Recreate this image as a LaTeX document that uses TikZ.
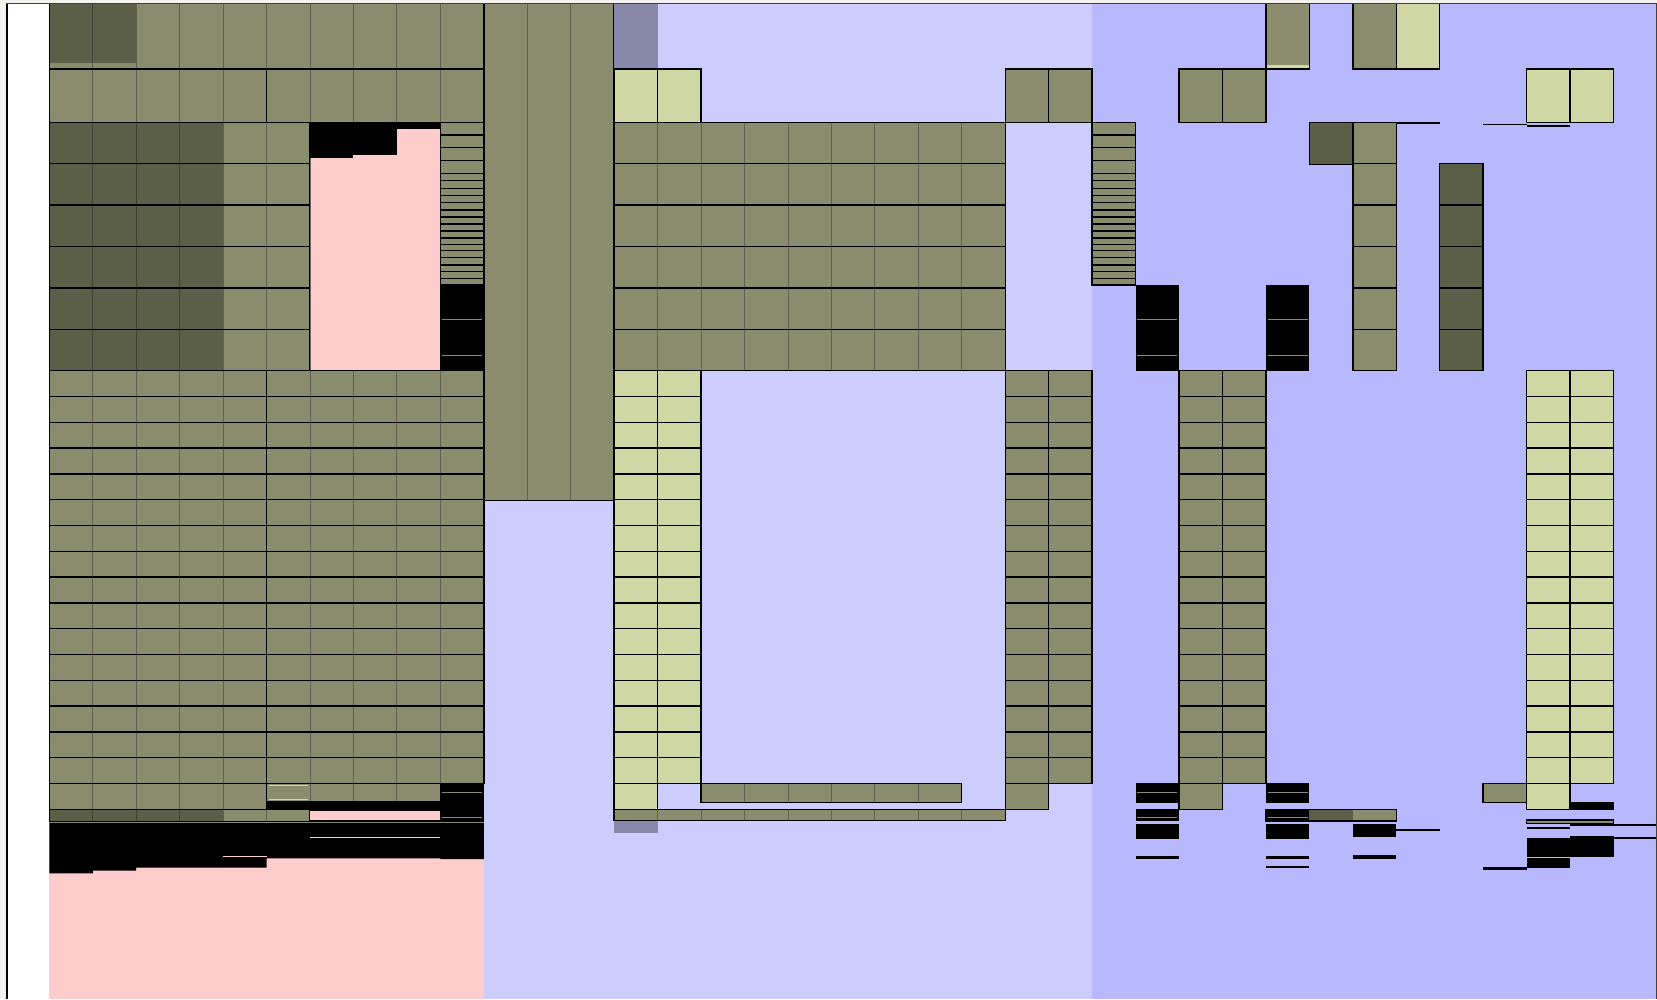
\documentclass[tikz,border=0pt]{standalone}
\definecolor{ol}{RGB}{137,141,109}
\definecolor{dol}{RGB}{91,95,72}
\definecolor{yg}{RGB}{207,216,165}
\definecolor{pk}{RGB}{255,204,204}
\definecolor{lv}{RGB}{204,204,255}
\definecolor{lvb}{RGB}{184,184,255}
\definecolor{gp}{RGB}{136,136,171}
\definecolor{ow}{RGB}{243,242,238}
\tikzset{
  bd/.style={draw=black,line width=1.4pt},
  divl/.style={draw=black,opacity=0.3,line width=0.9pt},
  oline/.style={draw=ol,line width=1pt},
  pline/.style={draw=pk,line width=1pt}
}
% dividers + border
\newcommand\odiv[4]{%
  \pgfmathtruncatemacro\oca{#1+1}\pgfmathtruncatemacro\ocb{#2-1}%
  \ifnum\oca>\ocb\else\foreach \kk in {\oca,...,\ocb}{\draw[divl] (\kk,#3) -- (\kk,#4);}\fi
  \draw[bd] (#1,#3) rectangle (#2,#4);}
\newcommand\obox[5]{\fill[#5] (#1,#3) rectangle (#2,#4);\odiv{#1}{#2}{#3}{#4}}
% n bordered cells from column c0
\newcommand\cells[5]{%
  \pgfmathtruncatemacro\cnn{#2-1}%
  \foreach \cc in {0,...,\cnn}{\draw[bd,fill=#5] ({#1+\cc},#3) rectangle ({#1+\cc+1},#4);}}
% striped stack
\newcommand\stk[1]{%
  \fill[ol] (#1,122.3) rectangle ({#1+1},285);
  \foreach \yy in {122.3,135,147.7,160.7,173.3,180.3,188.7,195.7,202.7,210,217,224,231,238,244.3,250.7,257.7,265,271.7,278.3,285}
    {\draw[line width=1.3pt] (#1,\yy) -- ({#1+1},\yy);}
  \draw[bd] (#1,122.3) rectangle ({#1+1},285);}
\newcommand\bstk[1]{%
  \fill (#1,285) rectangle ({#1+1},370.7);
  \draw[oline] ({#1+0.04},319) -- ({#1+0.96},319) ({#1+0.04},355.7) -- ({#1+0.96},355.7);}
\newcommand\lowbits[1]{%
  \fill (#1,783.3) rectangle ({#1+1},803.3);
  \draw[oline] ({#1+0.04},792.5) -- ({#1+0.96},792.5);
  \fill (#1,809.3) rectangle ({#1+1},821);
  \draw[oline] ({#1+0.04},817.7) -- ({#1+0.96},817.7);
  \fill (#1,824.3) rectangle ({#1+1},839.3);
  \fill (#1,855.5) rectangle ({#1+1},859);}
\begin{document}
\begin{tikzpicture}[x=1pt,y=-1pt]
\useasboundingbox (0,0) rectangle (1657,999);
\fill[ow] (0,0) rectangle (1657,999);
\fill[white] (7,3) rectangle (49.3,999);
\begin{scope}[shift={(49.3,0)},x=43.45pt]
% backgrounds
\fill[pk] (0,3.3) rectangle (10,999);
\fill[lv] (10,3.3) rectangle (24,999);
\fill[lvb] (24,3.3) rectangle (37,999);
% ===== left region =====
\fill[ol] (0,3.3) rectangle (10,69);
\fill[dol] (0,3.3) rectangle (2,63);
\odiv{0}{10}{3.3}{69}
\obox{0}{5}{69}{122.3}{ol}
\obox{5}{10}{69}{122.3}{ol}
\foreach \r in {0,...,5}{
  \pgfmathsetmacro\ya{122.3+41.4*\r}\pgfmathsetmacro\yb{\ya+41.4}
  \fill[ol] (0,\ya) rectangle (6,\yb);
  \fill[dol] (0,\ya) rectangle (4,\yb);
  \odiv{0}{6}{\ya}{\yb}
}
\draw[black!60,line width=0.6pt] (6,122.3) rectangle (9,370.7);
\fill (6,122.3) rectangle (7,158.3);
\fill (7,122.3) rectangle (8,155.3);
\fill (8,122.3) rectangle (9,128.7);
\stk{9}
\bstk{9}
\obox{10}{13}{3.3}{500.6}{ol}
\foreach \k in {0,...,15}{
  \pgfmathsetmacro\ya{370.7+25.8*\k}\pgfmathsetmacro\yb{\ya+25.8}
  \obox{0}{5}{\ya}{\yb}{ol}
  \obox{5}{10}{\ya}{\yb}{ol}
}
\obox{0}{5}{783.5}{809.3}{ol}
\fill (5,783.5) rectangle (10,821.7);
\obox{5}{9}{783.5}{801.7}{ol}
\draw[draw=yg,line width=0.8pt] (5.05,785.5) -- (5.95,785.5) (5.05,799.7) -- (5.95,799.7);
\draw[oline] (9.04,792.3) -- (9.96,792.3) (9.04,817.7) -- (9.96,817.7);
\fill[ol] (0,809.3) rectangle (6,821.7);
\fill[dol] (0,809.3) rectangle (4,821.7);
\odiv{0}{6}{809.3}{821.7}
\fill[pk] (6,810.7) rectangle (9,820);
\fill (0,821.7) -- (10,821.7) -- (10,859) -- (9,859) -- (9,858.3) -- (5,858.3) -- (5,867.7)
  -- (2,867.7) -- (2,870.7) -- (1,870.7) -- (1,873.3) -- (0,873.3) -- cycle;
\draw[oline] (0,822.2) -- (10,822.2);
\draw[pline] (6,837.7) -- (9,837.7);
\draw[pline] (4,856.7) -- (5,856.7);
% ===== middle region =====
\fill[gp] (13,3.3) rectangle (14,69);
\cells{13}{2}{69}{122.3}{yg}
\cells{22}{2}{69}{122.3}{ol}
\foreach \r in {0,...,5}{
  \pgfmathsetmacro\ya{122.3+41.4*\r}\pgfmathsetmacro\yb{\ya+41.4}
  \obox{13}{22}{\ya}{\yb}{ol}
}
\foreach \k in {0,...,15}{
  \pgfmathsetmacro\ya{370.7+25.8*\k}\pgfmathsetmacro\yb{\ya+25.8}
  \cells{13}{2}{\ya}{\yb}{yg}
  \cells{22}{2}{\ya}{\yb}{ol}
  \cells{26}{2}{\ya}{\yb}{ol}
  \cells{34}{2}{\ya}{\yb}{yg}
}
\cells{13}{1}{783.5}{809.3}{yg}
\cells{22}{1}{783.5}{809.3}{ol}
\cells{26}{1}{783.5}{809.3}{ol}
\cells{34}{1}{783.5}{809.3}{yg}
\obox{15}{21}{783.5}{802.3}{ol}
\obox{13}{22}{809.3}{820.7}{ol}
\fill[gp] (13,821.3) rectangle (14,833.3);
% ===== right region =====
\stk{24}
\bstk{25}
\bstk{28}
\fill[ol] (28,3.3) rectangle (29,69);
\fill[yg] (28,64.5) rectangle (29,69);
\draw[bd] (28,3.3) rectangle (29,69);
\cells{30}{1}{3.3}{69}{ol}
\cells{31}{1}{3.3}{69}{yg}
\cells{26}{2}{69}{122.3}{ol}
\cells{34}{2}{69}{122.3}{yg}
\cells{29}{1}{122.3}{164.3}{dol}
\foreach \r in {0,...,5}{
  \pgfmathsetmacro\ya{122.3+41.4*\r}\pgfmathsetmacro\yb{\ya+41.4}
  \cells{30}{1}{\ya}{\yb}{ol}
}
\foreach \r in {1,...,5}{
  \pgfmathsetmacro\ya{122.3+41.4*\r}\pgfmathsetmacro\yb{\ya+41.4}
  \cells{32}{1}{\ya}{\yb}{dol}
}
\fill (31,122.3) rectangle (32,124.3);
\fill (33,123.5) rectangle (34,125.3);
\fill (34,125) rectangle (35,127);
\cells{33}{1}{783.5}{802.3}{ol}
\fill (35,801.7) rectangle (36,810);
\lowbits{25}
\lowbits{28}
\fill (28,866) rectangle (29,867.7);
\fill[ol] (29,809.3) rectangle (31,821);
\fill[dol] (29,809.3) rectangle (30,821);
\draw[bd] (28,809.3) rectangle (31,821);
\fill (30,824.3) rectangle (31,836.7);
\fill (31,829) rectangle (32,831);
\fill (30,855.3) rectangle (31,859.3);
\fill (33,866.7) rectangle (34,870);
\draw[bd,fill=ol] (34,820) rectangle (36,823.3);
\fill (35,824) rectangle (37,825.5);
\fill (34,827.3) rectangle (35,829.3);
\fill (34,838.3) rectangle (35,856.7);
\fill (35,835.7) rectangle (36,857.3);
\fill (36,837.3) rectangle (37,839);
\fill (34,858.3) rectangle (35,867.7);
\end{scope}
% frame
\draw[line width=2pt] (6.5,3) -- (6.5,999);
\draw[line width=1pt,black!75] (6,3) -- (1657,3);
\draw[line width=1pt,black!75] (1656.5,3) -- (1656.5,999);
\end{tikzpicture}
\end{document}
